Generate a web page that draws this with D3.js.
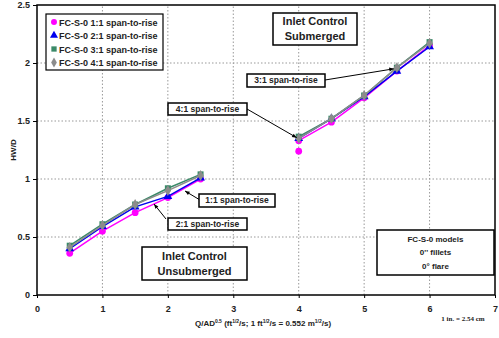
<!DOCTYPE html>
<html><head><meta charset="utf-8">
<script src="https://cdn.jsdelivr.net/npm/d3@7"></script>
<style>body{margin:0;background:#fff}svg{font-family:"Liberation Sans",Arial,sans-serif}</style>
</head><body><svg id="c" width="499" height="338"></svg>
<script>
const xLow = [0.5, 1, 1.5, 2, 2.5];
const xHigh = [4, 4.5, 5, 5.5, 6];
const s11Low = [0.36, 0.55, 0.71, 0.84, 1.00];
const s11High = [1.33, 1.49, 1.70, 1.93, 2.15];
const s11Extra = [[4, 1.24]];
const s21Low = [0.40, 0.59, 0.76, 0.85, 1.01];
const s21High = [1.35, 1.52, 1.71, 1.93, 2.14];
const s31Low = [0.425, 0.61, 0.78, 0.92, 1.04];
const s31High = [1.365, 1.52, 1.72, 1.96, 2.18];
const s41Low = [0.41, 0.60, 0.78, 0.90, 1.03];
const s41High = [1.35, 1.52, 1.72, 1.96, 2.17];
const xTicks = [0,1,2,3,4,5,6,7];
const yTicks = [0,0.5,1,1.5,2,2.5];
const seriesNames = ["FC-S-0 1:1 span-to-rise","FC-S-0 2:1 span-to-rise","FC-S-0 3:1 span-to-rise","FC-S-0 4:1 span-to-rise"];

const svg = d3.select("#c");
const x = d3.scaleLinear().domain([0,7]).range([37,495]);
const y = d3.scaleLinear().domain([0,2.5]).range([295,5]);

// grid
const g = svg.append("g");
g.selectAll(".gx").data(xTicks.slice(1,-1)).join("line")
 .attr("x1",d=>x(d)).attr("x2",d=>x(d)).attr("y1",y(0)).attr("y2",y(2.5))
 .attr("stroke","#999").attr("stroke-dasharray","1.5,2").attr("stroke-width",1);
g.selectAll(".gy").data(yTicks.slice(1,-1)).join("line")
 .attr("y1",d=>y(d)).attr("y2",d=>y(d)).attr("x1",x(0)).attr("x2",x(7))
 .attr("stroke","#999").attr("stroke-dasharray","1.5,2").attr("stroke-width",1);

// border
svg.append("rect").attr("x",x(0)).attr("y",y(2.5)).attr("width",x(7)-x(0)).attr("height",y(0)-y(2.5))
 .attr("fill","none").attr("stroke","#000").attr("stroke-width",1.5);

// axes
const xa = svg.append("g").attr("transform",`translate(0,${y(0)})`)
 .call(d3.axisBottom(x).tickValues(xTicks).tickSize(3).tickSizeOuter(0).tickFormat(d3.format("d")));
xa.select(".domain").remove();
xa.selectAll("text").attr("font-size",9).attr("font-weight","bold").attr("font-family","Liberation Sans").attr("dy","1.2em").attr("fill","#222");
const ya = svg.append("g").attr("transform",`translate(${x(0)},0)`)
 .call(d3.axisLeft(y).tickValues(yTicks).tickSize(4).tickSizeOuter(0).tickFormat(d=>d));
ya.select(".domain").remove();
ya.selectAll("text").attr("font-size",9).attr("font-weight","bold").attr("font-family","Liberation Sans").attr("x",-7).attr("fill","#222");

// series
const line = d3.line().x(d=>x(d[0])).y(d=>y(d[1]));
const series = [
 {low:s11Low, high:s11High, color:"#ff00ff", sym:d3.symbolCircle, size:36},
 {low:s21Low, high:s21High, color:"#0000ee", sym:d3.symbolTriangle, size:34},
 {low:s31Low, high:s31High, color:"#3a8a68", sym:d3.symbolSquare, size:36},
 {low:s41Low, high:s41High, color:"#8c8c8c", sym:d3.symbolDiamond, size:34},
];
series.forEach((s,i)=>{
  const lowPts = xLow.map((v,j)=>[v,s.low[j]]);
  const highPts = xHigh.map((v,j)=>[v,s.high[j]]);
  const pts = lowPts.concat(highPts);
  [lowPts,highPts].forEach(p=>svg.append("path").attr("d",line(p)).attr("fill","none").attr("stroke",s.color).attr("stroke-width",1.5));
  let mp = pts.slice();
  if(i===0) mp = mp.concat(s11Extra);
  svg.append("g").selectAll("path").data(mp).join("path")
   .attr("transform",d=>`translate(${x(d[0])},${y(d[1])})`)
   .attr("d",d3.symbol().type(s.sym).size(s.size))
   .attr("fill",s.color);
});

// legend
svg.append("rect").attr("x",46).attr("y",14).attr("width",117).attr("height",56).attr("fill","#fff").attr("stroke","#000").attr("stroke-width",1.2);
seriesNames.forEach((n,i)=>{
  const yy = 22 + i*13.5;
  svg.append("path").attr("transform",`translate(54,${yy})`).attr("d",d3.symbol().type(series[i].sym).size(28)).attr("fill",series[i].color);
  svg.append("text").attr("x",59).attr("y",yy+3.5).attr("font-size",9).attr("font-weight","bold").attr("fill","#222").text(n);
});

// annotation boxes
function box(x0,y0,w,h,lines,fs,lh){
  svg.append("rect").attr("x",x0).attr("y",y0).attr("width",w).attr("height",h).attr("fill","#fff").attr("stroke","#000").attr("stroke-width",1.5);
  lines.forEach((t,i)=>svg.append("text").attr("x",x0+w/2).attr("y",y0+h/2+(i-(lines.length-1)/2)*lh+fs*0.35)
    .attr("text-anchor","middle").attr("font-size",fs).attr("font-weight","bold").attr("fill","#222").text(t));
}
function arrow(x1,y1,x2,y2){
  svg.append("line").attr("x1",x1).attr("y1",y1).attr("x2",x2).attr("y2",y2).attr("stroke","#000").attr("stroke-width",1);
  const a = Math.atan2(y2-y1,x2-x1), L=5;
  svg.append("path").attr("d",`M${x2},${y2}L${x2-L*Math.cos(a-0.4)},${y2-L*Math.sin(a-0.4)}L${x2-L*Math.cos(a+0.4)},${y2-L*Math.sin(a+0.4)}Z`).attr("fill","#000");
}
arrow(325,80,x(5.5)-3,y(1.95));
arrow(247,109,x(4)-2,y(1.365)+1);
arrow(200,200,185,191);
arrow(166,219,154,204);
box(273,13,84,32,["Inlet Control","Submerged"],11,15);
box(247,74,78,13,["3:1 span-to-rise"],8.5,0);
box(168,103,79,12,["4:1 span-to-rise"],8.5,0);
box(199,194,76,13,["1:1 span-to-rise"],8.5,0);
box(168,218,79,12,["2:1 span-to-rise"],8.5,0);
box(142,247,105,33,["Inlet Control","Unsubmerged"],11,15);
box(377,230,117,45,["FC-S-0 models","0'' fillets","0° flare"],8,13.5);

// axis titles
svg.append("text").attr("transform","translate(16,150) rotate(-90)").attr("text-anchor","middle").attr("font-size",8).attr("font-weight","bold").attr("fill","#222").text("HW/D");
const xt = svg.append("text").attr("x",263).attr("y",326).attr("text-anchor","middle").attr("font-size",8).attr("font-weight","bold").attr("fill","#222");
xt.append("tspan").text("Q/AD");
xt.append("tspan").attr("font-size",5).attr("dy",-3).text("0.5");
xt.append("tspan").attr("dy",3).text(" (ft");
xt.append("tspan").attr("font-size",5).attr("dy",-3).text("1/2");
xt.append("tspan").attr("dy",3).text("/s; 1 ft");
xt.append("tspan").attr("font-size",5).attr("dy",-3).text("1/2");
xt.append("tspan").attr("dy",3).text("/s = 0.552 m");
xt.append("tspan").attr("font-size",5).attr("dy",-3).text("1/2");
xt.append("tspan").attr("dy",3).text("/s)");
svg.append("text").attr("x",463).attr("y",321).attr("text-anchor","middle").attr("font-size",7).attr("font-weight","bold").attr("font-family","Liberation Serif").attr("fill","#222").text("1 in. = 2.54 cm");
</script></body></html>
